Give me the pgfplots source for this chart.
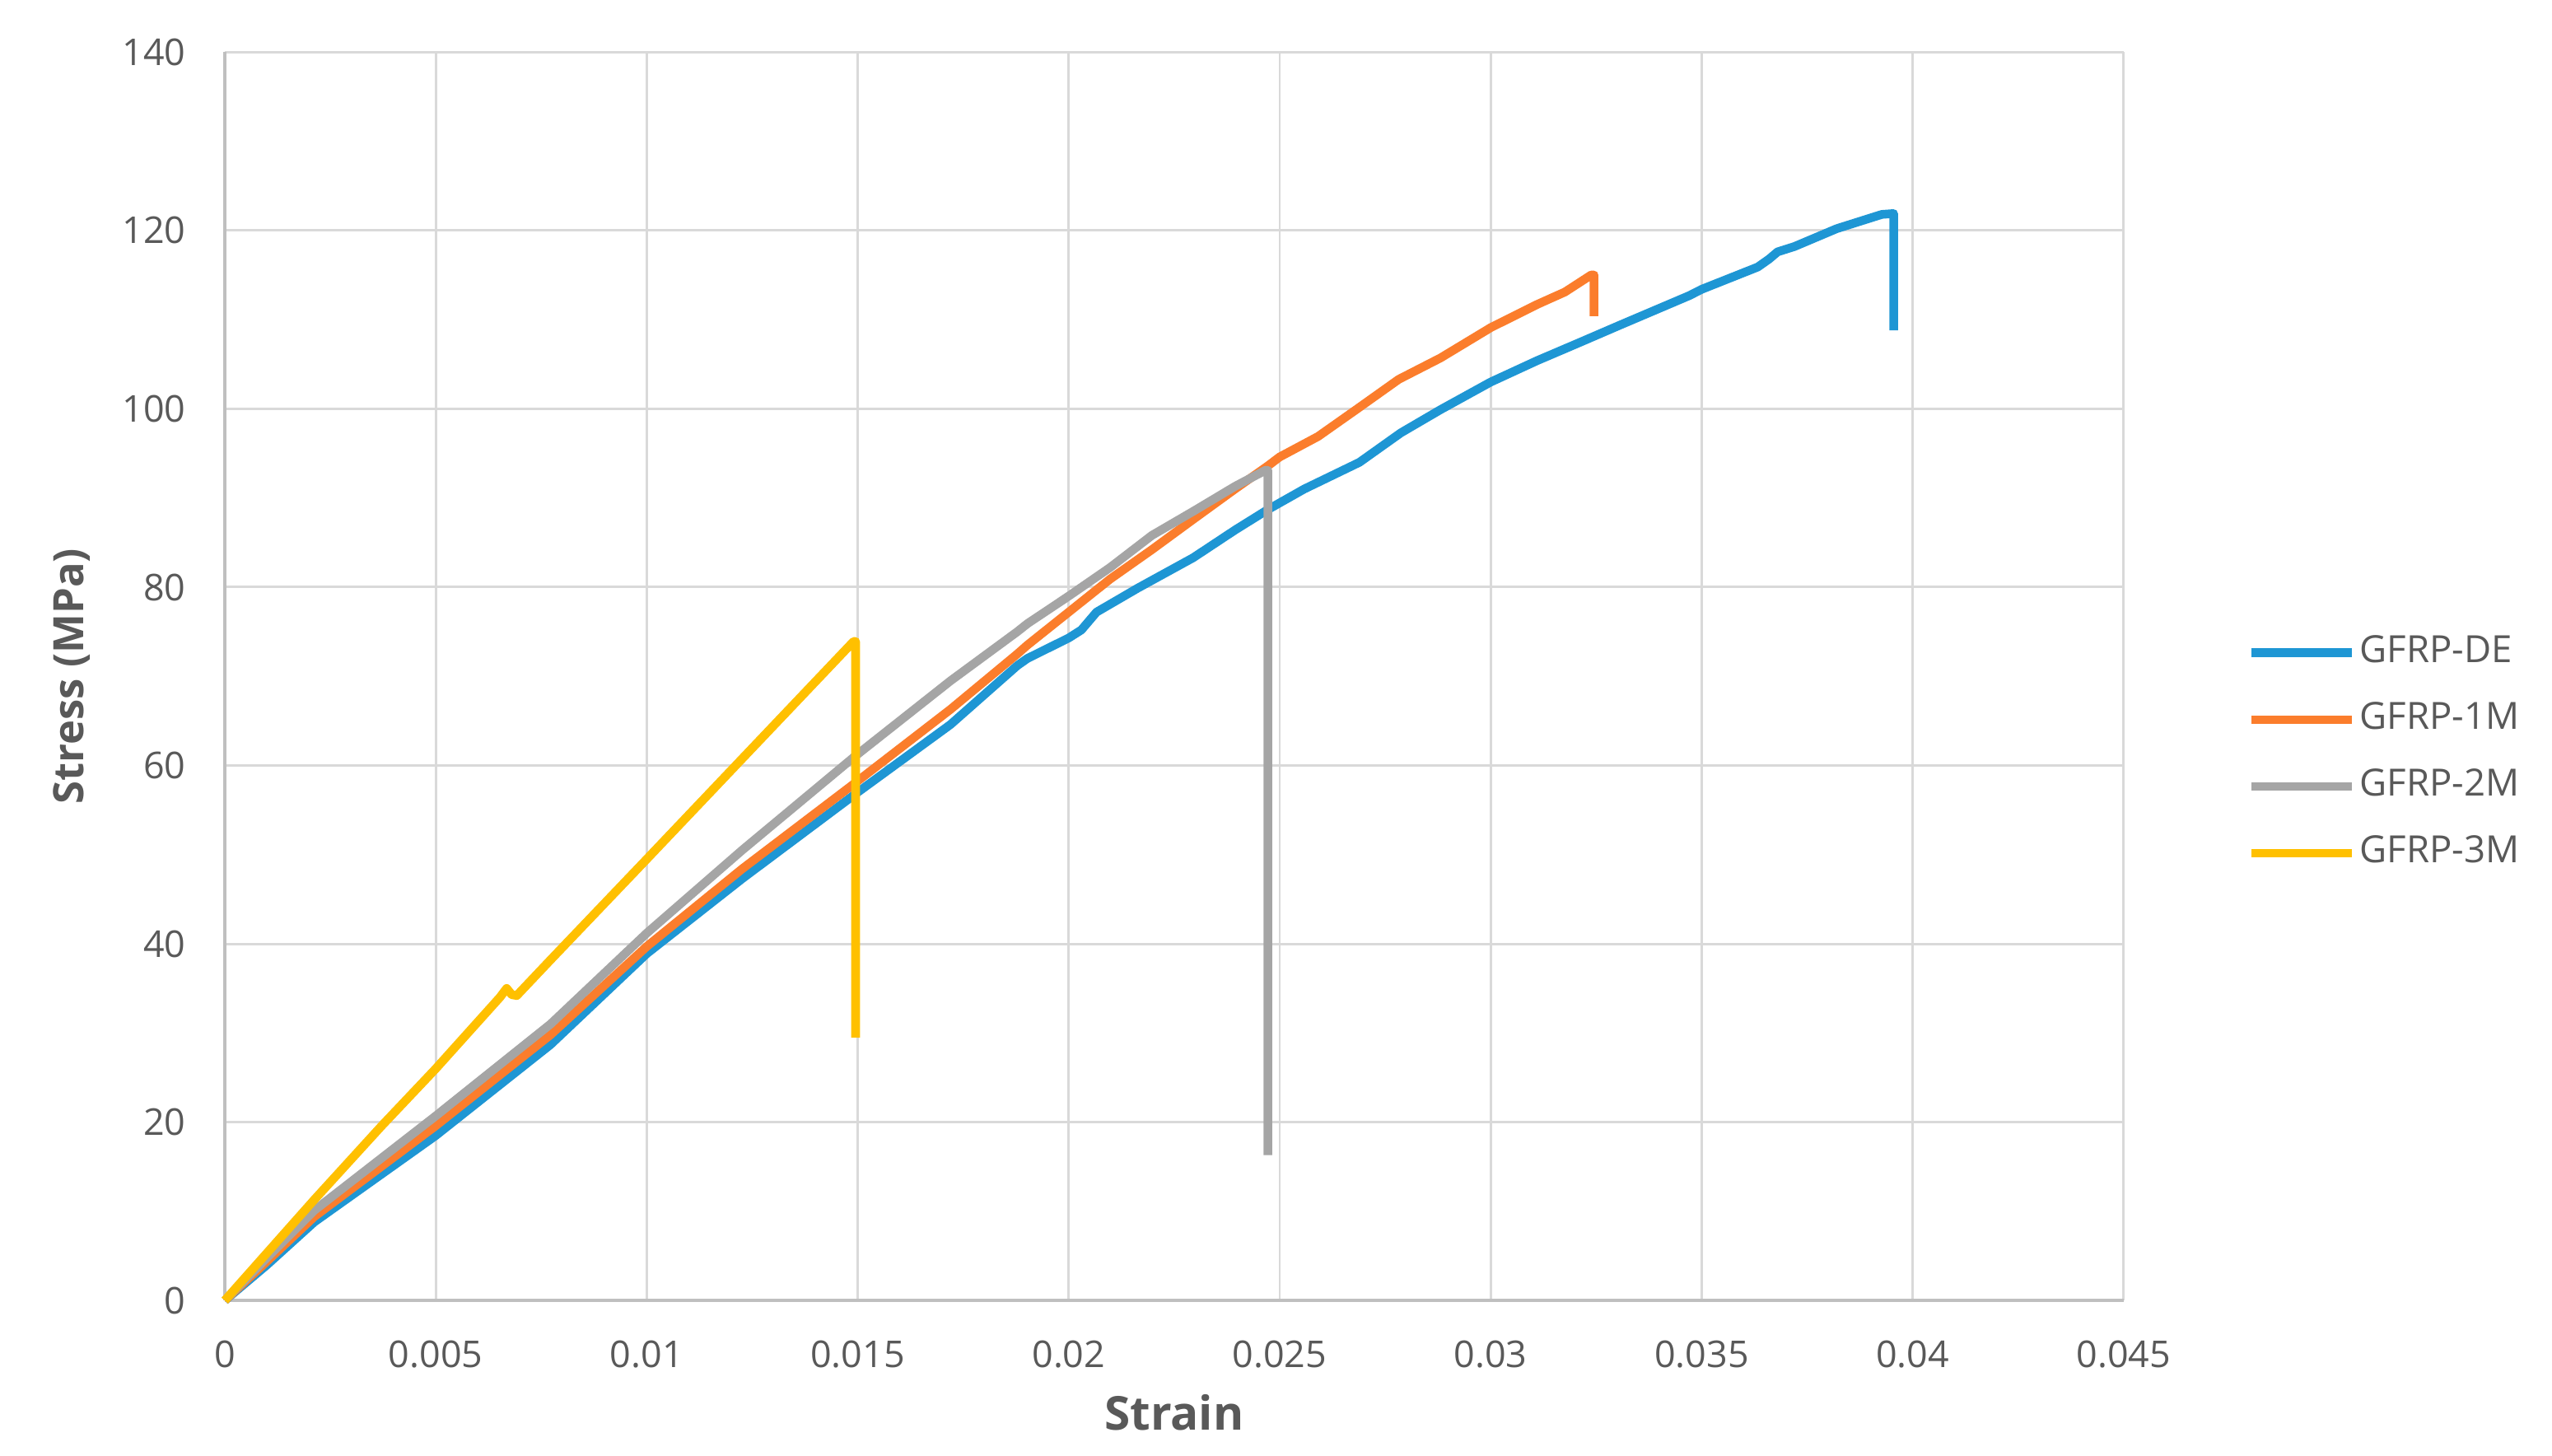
\documentclass[border=0pt]{standalone}
\usepackage{fontspec}
\setmainfont{Open Sans}
\usepackage{pgfplots}
\pgfplotsset{compat=1.18}
\definecolor{sDE}{HTML}{1E96D4}
\definecolor{s1M}{HTML}{FB7D2C}
\definecolor{s2M}{HTML}{A5A5A5}
\definecolor{s3M}{HTML}{FFC000}
\definecolor{gridc}{HTML}{D9D9D9}
\definecolor{axc}{HTML}{BFBFBF}
\definecolor{txt}{HTML}{595959}
\begin{document}
\begin{tikzpicture}
\useasboundingbox (0,0) rectangle (470pt,268.1pt);
\begin{axis}[
 at={(41.4pt,28.6pt)}, anchor=south west, scale only axis,
 width=349.7pt, height=229.9pt,
 xmin=0, xmax=0.045, ymin=0, ymax=140,
 clip=false,
 xtick={0,0.005,0.01,0.015,0.02,0.025,0.03,0.035,0.04,0.045},
 xticklabels={0,0.005,0.01,0.015,0.02,0.025,0.03,0.035,0.04,0.045},
 ytick={0,20,40,60,80,100,120,140},
 yticklabels={0,20,40,60,80,100,120,140},
 scaled x ticks=false,
 grid=major, grid style={gridc, line width=0.45pt},
 axis x line*=bottom, axis y line*=left,
 axis line style={axc, line width=0.55pt, -},
 major tick length=0pt,
 tick label style={font=\fontsize{6.8}{8}\selectfont, text=txt},
 xticklabel style={yshift=-3.9pt},
 yticklabel style={xshift=-3.7pt},
 xlabel={Strain}, ylabel={Stress (MPa)},
 xlabel style={at={(axis description cs:0.5,-0.0896)}, anchor=center,
   font=\fontsize{8.6}{10}\selectfont\bfseries, text=txt},
 ylabel style={at={(axis description cs:-0.0806,0.5)}, anchor=center,
   font=\fontsize{7.7}{9}\selectfont\bfseries, text=txt},
 legend style={at={(1.0646,0.4386)}, anchor=west, draw=none, fill=none,
   inner sep=0pt, row sep=4.6pt, font=\fontsize{6.9}{8}\selectfont, text=txt,
   nodes={inner sep=0.6pt}},
 legend cell align=left,
 legend image code/.code={\draw[#1] (0pt,0pt) -- (18.5pt,0pt);},
 every axis plot/.append style={line width=1.6pt, line join=round, no markers},
]
\addplot[sDE] table {
x y
0 0
0.001 4.0
0.00212 8.8
0.005 18.5
0.00772 28.7
0.01 38.9
0.01226 47.3
0.015 57.0
0.0172 64.6
0.01878 71.2
0.01902 72.0
0.0200 74.3
0.0203 75.2
0.02066 77.2
0.02164 79.9
0.02295 83.3
0.02394 86.4
0.02472 88.7
0.02558 91.0
0.02689 94.0
0.02787 97.3
0.02881 99.9
0.03 103.0
0.0311 105.4
0.03209 107.4
0.03307 109.4
0.03471 112.7
0.035 113.4
0.03633 115.9
0.0366 116.8
0.0368 117.6
0.0372 118.2
0.0382 120.2
0.03927 121.8
0.03955 121.9
0.03955 108.8
};
\addlegendentry{GFRP-DE}
\addplot[s1M] table {
x y
0 0
0.001 4.4
0.00212 9.4
0.005 19.6
0.00772 29.8
0.01 39.7
0.01226 48.4
0.0149 57.9
0.0172 66.3
0.01878 72.5
0.01902 73.5
0.02 77.2
0.02098 80.9
0.02197 84.2
0.02295 87.6
0.02394 91.0
0.02472 93.6
0.025 94.6
0.02591 96.9
0.02684 100.0
0.02782 103.3
0.02881 105.7
0.03 109.1
0.0311 111.7
0.03176 113.1
0.03238 115.0
0.03245 115.0
0.03245 110.4
};
\addlegendentry{GFRP-1M}
\addplot[s2M] table {
x y
0 0
0.001 4.8
0.00212 10.1
0.005 20.7
0.00772 31.0
0.01 41.2
0.01226 50.5
0.0149 60.9
0.0172 69.5
0.01878 75.0
0.01902 75.9
0.02 79.0
0.02098 82.2
0.02197 85.8
0.02295 88.5
0.02394 91.3
0.02466 93.1
0.02472 93.1
0.02472 16.3
};
\addlegendentry{GFRP-2M}
\addplot[s3M] table {
x y
0 0
0.00212 11.3
0.00372 19.6
0.005 26.0
0.00652 34.0
0.00668 35.0
0.0068 34.3
0.00692 34.2
0.00772 38.2
0.01 49.5
0.0149 73.9
0.01495 73.9
0.01495 29.5
};
\addlegendentry{GFRP-3M}
\end{axis}
\end{tikzpicture}
\end{document}
